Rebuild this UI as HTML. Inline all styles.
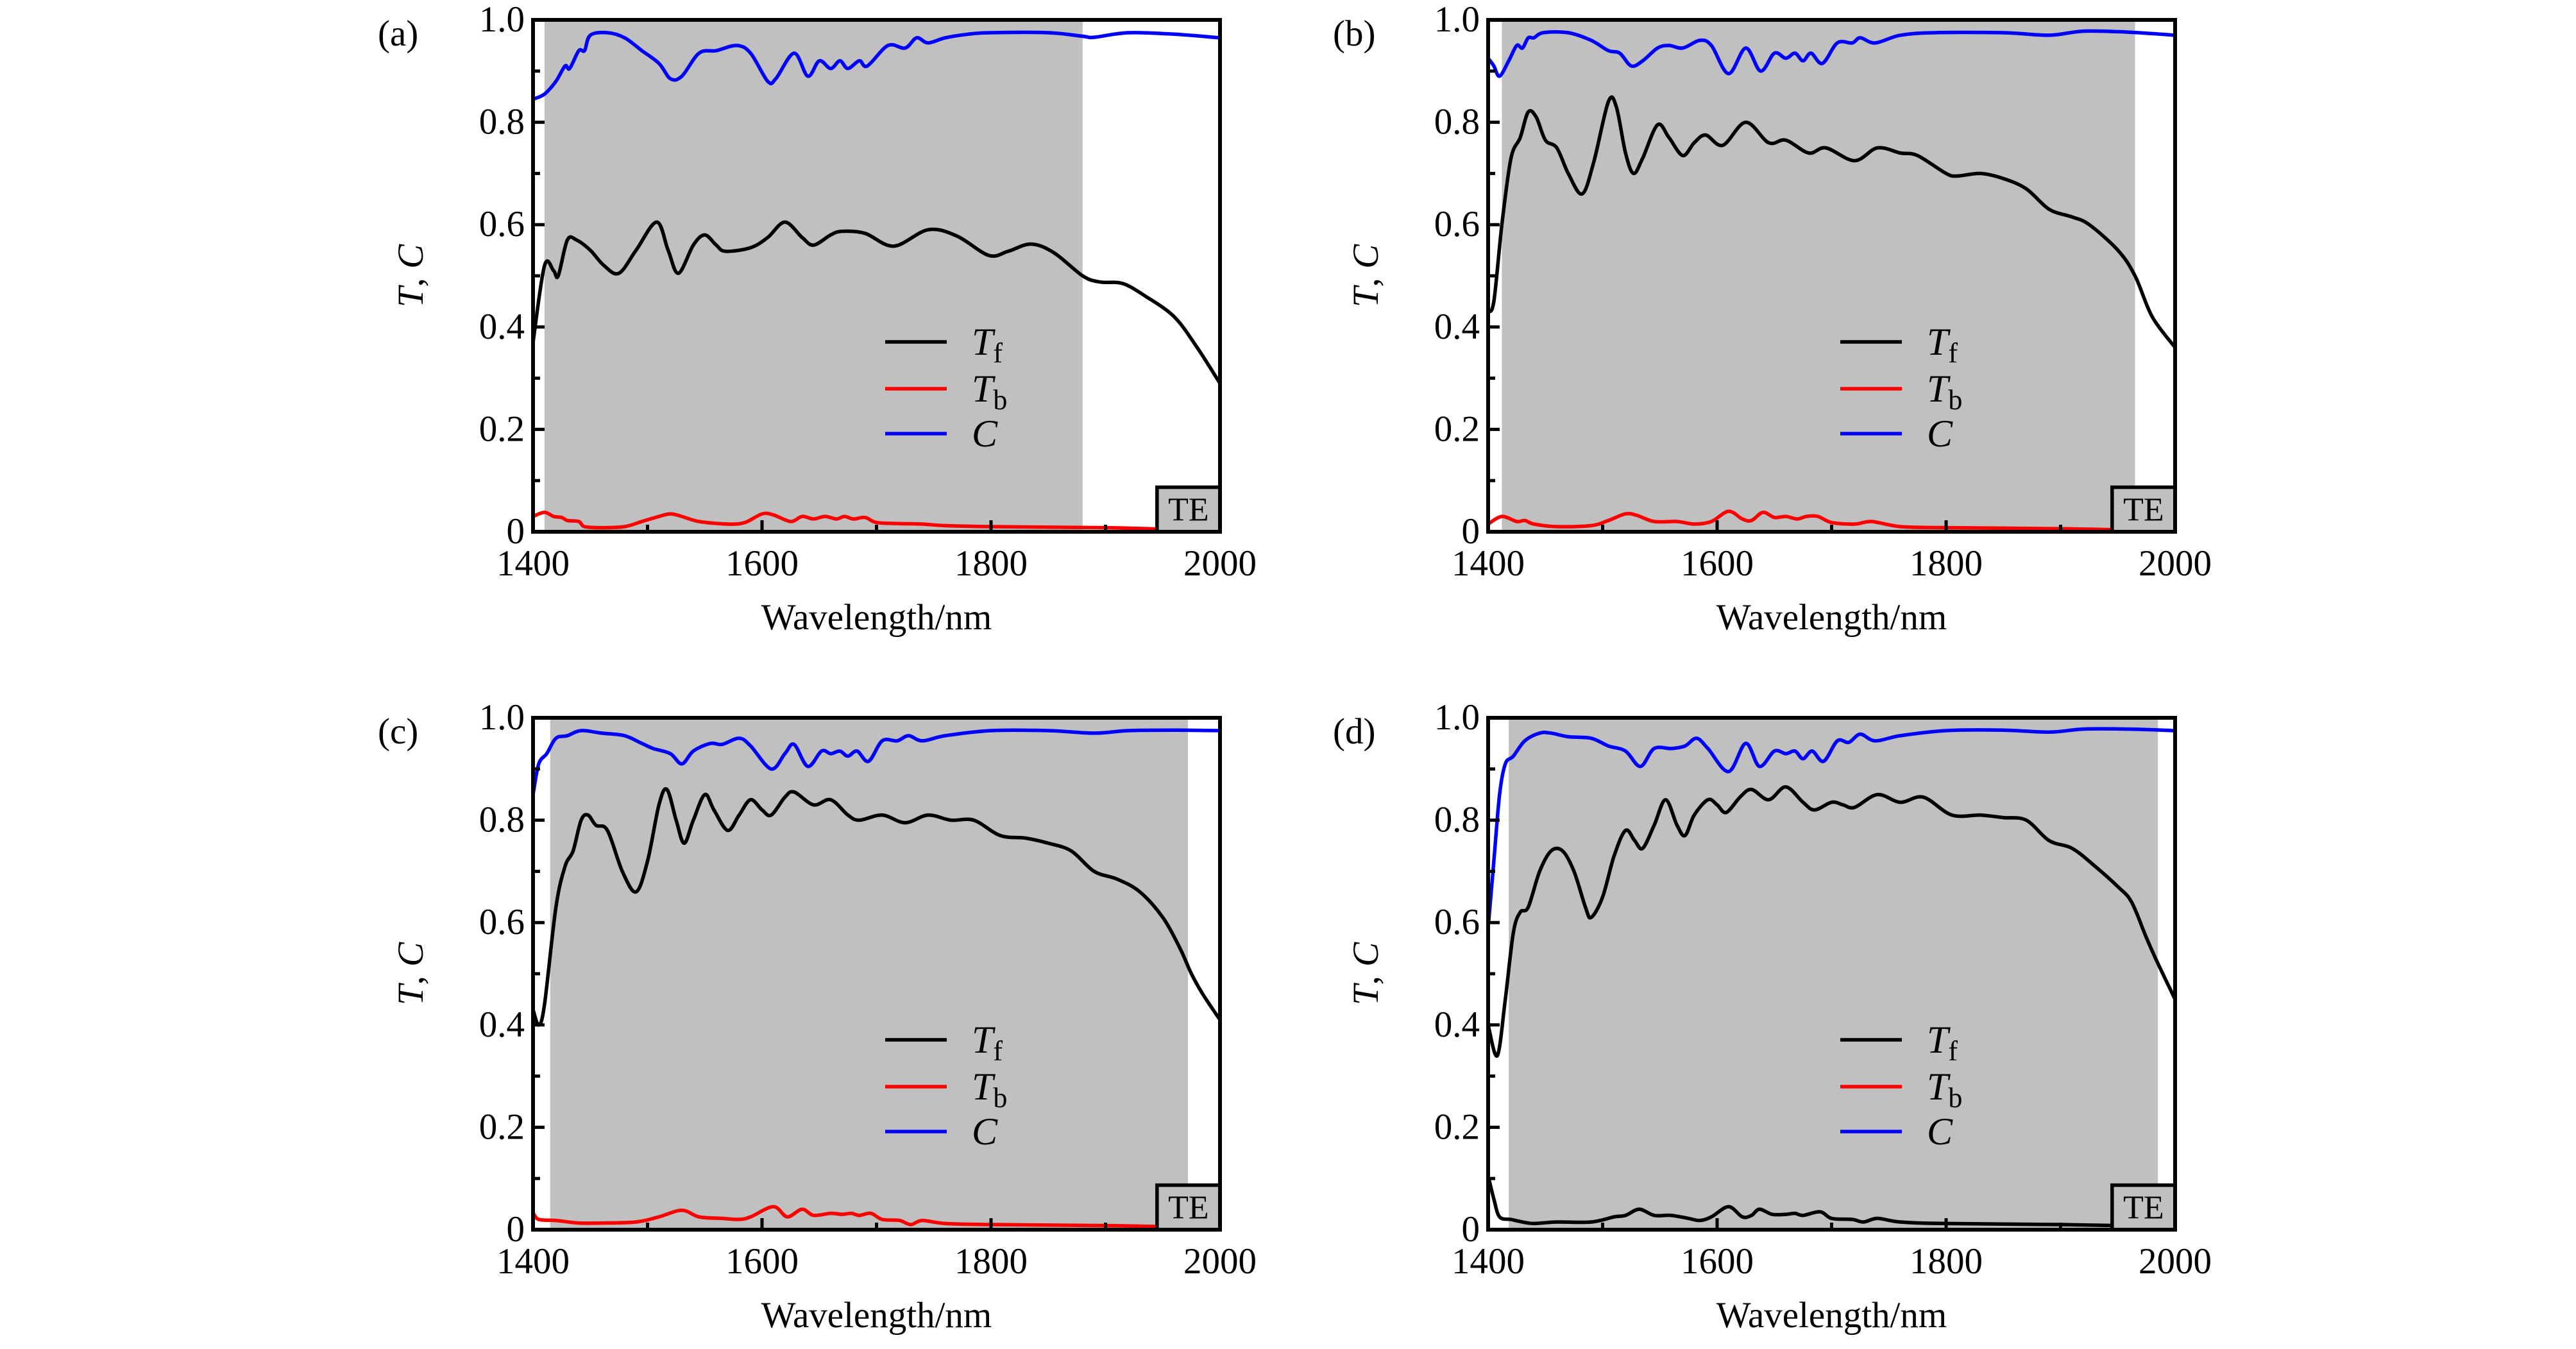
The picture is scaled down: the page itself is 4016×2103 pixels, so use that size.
<!DOCTYPE html>
<html><head><meta charset="utf-8"><style>
html,body{margin:0;padding:0;background:#fff;}
svg{display:block;}
text{font-family:"Liberation Serif",serif;fill:#000;}
</style></head><body>
<svg id="fig" width="4016" height="2103" viewBox="0 0 4016 2103" xmlns="http://www.w3.org/2000/svg"></svg>
<script>
// ---- data ----
const panelLabels = ["(a)","(b)","(c)","(d)"];
const shadeStart = [1410,1412,1415,1418];
const shadeEnd = [1880,1965,1972,1985];
const xTicks = [1400,1600,1800,2000];
const xMinor = [1500,1700,1900];
const yTicks = [0,0.2,0.4,0.6,0.8,1.0];
const yTickLabels = ["0","0.2","0.4","0.6","0.8","1.0"];
const yMinor = [0.1,0.3,0.5,0.7,0.9];

const aTfX=[1400,1410,1418,1422,1430,1438,1450,1462,1475,1490,1508,1518,1527,1540,1550,1560,1568,1590,1605,1620,1635,1645,1660,1670,1690,1715,1745,1770,1798,1815,1835,1855,1880,1895,1915,1935,1960,1980,2000];
const aTfY=[.37,.52,.51,.50,.57,.57,.55,.52,.505,.55,.605,.55,.505,.56,.58,.56,.548,.555,.575,.605,.575,.56,.58,.587,.583,.558,.59,.578,.54,.548,.562,.545,.50,.488,.485,.46,.42,.36,.29];
const aCX=[1400,1410,1420,1428,1432,1440,1445,1450,1465,1480,1495,1510,1520,1530,1545,1560,1578,1590,1605,1612,1628,1640,1650,1660,1668,1675,1685,1692,1710,1725,1735,1745,1760,1780,1800,1850,1880,1890,1920,1960,2000];
const aCY=[.845,.855,.88,.91,.905,.94,.94,.97,.975,.965,.94,.915,.885,.89,.935,.94,.95,.935,.88,.885,.935,.89,.92,.905,.92,.905,.92,.91,.95,.945,.965,.955,.965,.972,.975,.975,.968,.966,.975,.972,.965];
const aTbX=[1400,1410,1418,1425,1430,1440,1445,1460,1480,1495,1510,1520,1530,1545,1570,1585,1600,1610,1625,1635,1645,1655,1665,1672,1680,1690,1700,1720,1740,1760,1800,1900,1950];
const aTbY=[.03,.038,.03,.028,.022,.02,.01,.008,.01,.02,.03,.035,.03,.02,.015,.018,.035,.033,.02,.03,.025,.03,.025,.03,.025,.028,.018,.016,.015,.012,.01,.008,.005];

const bTfX=[1400,1405,1412,1420,1428,1435,1442,1450,1460,1470,1482,1492,1505,1512,1520,1527,1535,1548,1558,1570,1580,1590,1605,1625,1645,1660,1680,1695,1720,1740,1760,1775,1800,1810,1830,1850,1870,1890,1910,1925,1950,1965,1980,2000];
const bTfY=[.43,.45,.6,.73,.77,.82,.81,.765,.75,.70,.66,.72,.84,.83,.74,.70,.73,.795,.77,.735,.76,.775,.755,.80,.76,.765,.74,.75,.725,.75,.74,.735,.70,.695,.70,.69,.67,.63,.615,.60,.55,.50,.42,.36];
const bCX=[1400,1405,1410,1418,1425,1430,1435,1440,1448,1470,1490,1505,1515,1525,1535,1548,1558,1570,1585,1595,1610,1625,1638,1650,1660,1668,1675,1682,1692,1705,1718,1725,1738,1760,1790,1850,1890,1920,1960,2000];
const bCY=[.925,.91,.89,.92,.95,.945,.965,.965,.975,.975,.96,.94,.935,.91,.92,.945,.95,.945,.96,.95,.895,.945,.90,.935,.925,.935,.92,.935,.915,.955,.955,.965,.955,.97,.975,.975,.97,.978,.976,.97];
const bTbX=[1400,1412,1425,1432,1440,1460,1490,1505,1520,1530,1545,1565,1580,1595,1610,1622,1630,1640,1650,1660,1670,1678,1688,1700,1720,1735,1760,1800,1900,1950,2000];
const bTbY=[.015,.03,.02,.022,.015,.01,.012,.022,.035,.032,.02,.02,.015,.02,.04,.025,.022,.038,.028,.03,.025,.03,.03,.018,.015,.02,.01,.008,.006,.004,.004];

const cTfX=[1400,1405,1410,1420,1428,1435,1442,1448,1455,1465,1478,1490,1500,1510,1517,1525,1532,1540,1550,1558,1570,1580,1590,1600,1608,1620,1628,1645,1660,1675,1685,1705,1725,1745,1765,1785,1808,1830,1850,1870,1890,1910,1930,1950,1965,1975,1985,2000];
const cTfY=[.43,.40,.44,.63,.71,.74,.80,.81,.79,.78,.70,.66,.72,.83,.86,.80,.755,.80,.85,.82,.78,.81,.84,.82,.81,.845,.855,.83,.84,.81,.80,.81,.795,.81,.80,.80,.77,.765,.755,.74,.70,.685,.66,.61,.55,.50,.46,.41];
const cCX=[1400,1405,1412,1420,1430,1442,1460,1480,1495,1505,1520,1530,1540,1555,1565,1580,1590,1608,1620,1628,1640,1652,1660,1668,1675,1683,1693,1705,1718,1728,1740,1760,1800,1850,1890,1920,1960,2000];
const cCY=[.85,.91,.93,.96,.965,.975,.97,.965,.95,.94,.93,.91,.935,.95,.948,.96,.945,.90,.93,.948,.905,.935,.93,.935,.925,.935,.915,.955,.955,.965,.955,.965,.975,.975,.97,.975,.976,.975];
const cTbX=[1400,1405,1420,1440,1460,1490,1510,1530,1545,1565,1580,1590,1610,1622,1635,1645,1660,1670,1678,1685,1695,1705,1720,1730,1740,1760,1800,1900,1950];
const cTbY=[.033,.02,.018,.013,.013,.015,.025,.038,.025,.022,.02,.025,.045,.025,.04,.028,.032,.03,.032,.028,.032,.02,.018,.01,.018,.012,.01,.008,.006];

const dTfX=[1400,1408,1415,1422,1428,1435,1445,1455,1465,1475,1485,1490,1500,1510,1520,1528,1535,1545,1555,1565,1572,1580,1592,1600,1608,1620,1630,1645,1660,1675,1685,1700,1710,1720,1740,1760,1780,1805,1830,1850,1870,1890,1910,1930,1950,1962,1975,1985,2000];
const dTfY=[.4,.34,.45,.58,.62,.63,.70,.74,.74,.70,.63,.61,.65,.73,.78,.76,.745,.79,.84,.79,.77,.81,.84,.83,.815,.845,.86,.84,.865,.835,.82,.835,.83,.825,.85,.835,.845,.81,.81,.805,.80,.76,.745,.71,.67,.64,.57,.52,.45];
const dCX=[1400,1405,1410,1415,1422,1432,1445,1455,1470,1490,1505,1520,1533,1545,1560,1572,1582,1592,1610,1625,1637,1650,1660,1668,1675,1683,1693,1705,1715,1725,1738,1760,1800,1850,1890,1920,1960,2000];
const dCY=[.59,.72,.85,.91,.925,.955,.97,.97,.963,.96,.945,.935,.905,.94,.94,.945,.96,.94,.895,.95,.905,.935,.93,.935,.92,.935,.915,.955,.952,.968,.955,.965,.975,.976,.972,.978,.978,.975];
const dTbX=[1400,1405,1410,1420,1430,1440,1460,1490,1510,1520,1532,1545,1560,1575,1585,1595,1610,1622,1630,1637,1648,1660,1668,1675,1690,1700,1718,1728,1740,1760,1800,1900,1950];
const dTbY=[.105,.06,.025,.02,.015,.012,.015,.015,.025,.028,.04,.028,.028,.022,.018,.025,.045,.025,.028,.04,.03,.03,.032,.028,.035,.022,.02,.015,.022,.015,.012,.01,.008];

const panels=[
 {ox:831,oy:31,tf:[aTfX,aTfY],tb:[aTbX,aTbY],c:[aCX,aCY],tbColor:"#ff0000"},
 {ox:2320,oy:31,tf:[bTfX,bTfY],tb:[bTbX,bTbY],c:[bCX,bCY],tbColor:"#ff0000"},
 {ox:831,oy:1119,tf:[cTfX,cTfY],tb:[cTbX,cTbY],c:[cCX,cCY],tbColor:"#ff0000"},
 {ox:2320,oy:1119,tf:[dTfX,dTfY],tb:[dTbX,dTbY],c:[dCX,dCY],tbColor:"#000000"}
];
const W=1071,H=798;
const NS="http://www.w3.org/2000/svg";
const svg=document.getElementById('fig');
function mk(tag,attrs,parent){const e=document.createElementNS(NS,tag);for(const k in attrs)e.setAttribute(k,attrs[k]);(parent||svg).appendChild(e);return e;}
function pathFrom(xs,ys,sx,sy){
  const P=xs.map((x,i)=>[sx(x),sy(ys[i])]);
  let d="M"+P[0][0].toFixed(1)+","+P[0][1].toFixed(1);
  for(let i=0;i<P.length-1;i++){
    const p0=P[Math.max(0,i-1)],p1=P[i],p2=P[i+1],p3=P[Math.min(P.length-1,i+2)];
    const c1=[p1[0]+(p2[0]-p0[0])/6,p1[1]+(p2[1]-p0[1])/6];
    const c2=[p2[0]-(p3[0]-p1[0])/6,p2[1]-(p3[1]-p1[1])/6];
    d+=" C"+c1[0].toFixed(1)+","+c1[1].toFixed(1)+" "+c2[0].toFixed(1)+","+c2[1].toFixed(1)+" "+p2[0].toFixed(1)+","+p2[1].toFixed(1);
  }
  return d;
}
panels.forEach((p,i)=>{
  const g=mk('g',{});
  
  
  const sx=v=>p.ox+(v-1400)/600*W;
  const sy=v=>p.oy+H-v*H;
  const clipId='clip'+i;
  const cp=mk('clipPath',{id:clipId},g);
  mk('rect',{x:p.ox,y:p.oy,width:W,height:H},cp);
  const sh=mk('rect',{x:sx(shadeStart[i]),y:sy(1),width:sx(shadeEnd[i])-sx(shadeStart[i]),height:H,fill:"#c0c0c0"},g);
  
  
  const lines=mk('g',{'clip-path':'url(#'+clipId+')'},g);
  const series=[[p.c,"#0000ff","curve-c"],[p.tb,p.tbColor,"curve-tb"],[p.tf,"#000000","curve-tf"]];
  series.forEach(s=>{
    const pe=mk('path',{d:pathFrom(s[0][0],s[0][1],sx,sy),fill:"none",stroke:s[1],'stroke-width':5.5,'stroke-linejoin':'round'},lines);
    
    
  });
  const tb=mk('rect',{x:sx(1945),y:sy(0.087),width:sx(2000)-sx(1945),height:sy(0)-sy(0.087),fill:"#c0c0c0",stroke:"#000",'stroke-width':5.5},g);
  
  
  const tt=mk('text',{x:(sx(1945)+sx(2000))/2,y:sy(0.022),'font-size':52,'text-anchor':'middle'},g);
  tt.textContent="TE";
  
  
  const fr=mk('rect',{x:p.ox,y:p.oy,width:W,height:H,fill:"none",stroke:"#000",'stroke-width':6},g);
  
  
  xTicks.forEach(v=>{
    mk('line',{x1:sx(v),x2:sx(v),y1:p.oy+H,y2:p.oy+H-18,stroke:"#000",'stroke-width':5},g);
    const t=mk('text',{x:sx(v),y:p.oy+H+68,'font-size':57,'text-anchor':'middle'},g);
    t.textContent=v;
    
    
  });
  xMinor.forEach(v=>mk('line',{x1:sx(v),x2:sx(v),y1:p.oy+H,y2:p.oy+H-11,stroke:"#000",'stroke-width':5},g));
  yTicks.forEach((v,k)=>{
    mk('line',{x1:p.ox,x2:p.ox+18,y1:sy(v),y2:sy(v),stroke:"#000",'stroke-width':5},g);
    const t=mk('text',{x:p.ox-13,y:sy(v)+18,'font-size':57,'text-anchor':'end'},g);
    t.textContent=yTickLabels[k];
    
    
  });
  yMinor.forEach(v=>mk('line',{x1:p.ox,x2:p.ox+11,y1:sy(v),y2:sy(v),stroke:"#000",'stroke-width':5},g));
  const xt=mk('text',{x:p.ox+W/2,y:p.oy+H+152,'font-size':57,'text-anchor':'middle'},g);
  xt.textContent="Wavelength/nm";
  
  
  const yt=mk('text',{x:0,y:0,'font-size':57,'text-anchor':'middle',transform:`translate(${p.ox-172},${p.oy+H/2}) rotate(-90)`},g);
  yt.innerHTML='<tspan font-style="italic">T</tspan>, <tspan font-style="italic">C</tspan>';
  
  
  const pl=mk('text',{x:p.ox-242,y:p.oy+40,'font-size':57},g);
  pl.textContent=panelLabels[i];
  
  
  const leg=[["#000","T","f"],["#ff0000","T","b"],["#0000ff","C",""]];
  const ly=[502,575,645];
  leg.forEach((L,k)=>{
    const y=p.oy+ly[k];
    const ln=mk('line',{x1:p.ox+549,x2:p.ox+645,y1:y,y2:y,stroke:L[0],'stroke-width':5.5},g);
    
    
    const t=mk('text',{x:p.ox+684,y:y+20,'font-size':60},g);
    t.innerHTML='<tspan font-style="italic">'+L[1]+'</tspan>'+(L[2]?'<tspan font-size="44" dy="12">'+L[2]+'</tspan>':'');
    
    
  });
});
</script>
</body></html>
